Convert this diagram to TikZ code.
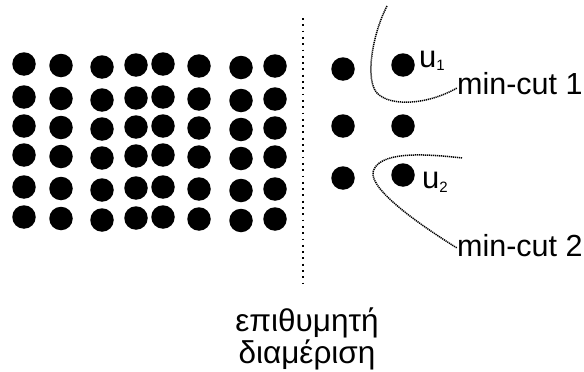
\documentclass[tikz,border=0pt]{standalone}
\usepackage{fontspec}
\setmainfont{Liberation Sans}
\usetikzlibrary{calc}

\begin{document}
\begin{tikzpicture}[x=1pt, y=-1pt,
    vertex/.style={circle, fill=black, inner sep=0pt, minimum size=23.5pt},
    partline/.style={line width=1.8pt, dash pattern=on 1.8pt off 4.5pt},
    cutline/.style={line width=1.5pt, dash pattern=on 1.2pt off 0.8pt},
    vlabel/.style={inner sep=0pt, anchor=base west, font=\fontsize{31}{31}\selectfont},
    cutlabel/.style={inner sep=0pt, anchor=base west, font=\fontsize{30.5}{30}\selectfont}
]
    \useasboundingbox (0,0) rectangle (584,372);
    % left part of the graph
    \foreach \x/\dy [count=\i] in {24/0, 61/1.5, 102/3, 136/1, 163/0, 199/2, 241/3.5, 275/2} {
        \foreach \y [count=\j] in {64, 97, 126, 155, 187, 217}
            \node[vertex] (g\i-\j) at (\x, \y+\dy) {};
    }
    % right part of the graph
    \node[vertex] (a1) at (343, 69) {};
    \node[vertex] (u1) at (403, 65) {};
    \node[vertex] (a2) at (343, 126) {};
    \node[vertex] (b2) at (403, 126) {};
    \node[vertex] (a3) at (343, 178) {};
    \node[vertex] (u2) at (403, 175) {};
    \node[vlabel] (u1lab) at (419, 67) {u\raisebox{-3pt}{\fontsize{15}{15}\selectfont 1}};
    \node[vlabel] (u2lab) at (422, 188) {u\raisebox{-4pt}{\fontsize{15}{15}\selectfont 2}};
    % desired partition
    \coordinate (ptop) at (303, 18);
    \coordinate (pbot) at (303, 285);
    \draw[partline] (ptop) -- (pbot);
    \node[anchor=north, align=center, inner sep=0pt, font=\fontsize{31.5}{29}\selectfont] (part) at (307, 308) {επιθυμητή\\διαμέριση};
    % min cuts
    \node[cutlabel] (cut1) at (457, 94) {min-cut 1};
    \node[cutlabel] (cut2) at (457, 256) {min-cut 2};
    \coordinate (c1start) at (387, 6);
    \coordinate (c2start) at (462, 158);
    \draw[cutline] (c1start) .. controls (372, 35) and (365, 80) .. (377, 93)
        .. controls (389, 106) and (425, 106) .. ($(cut1.base west)+(0, -6)$);
    \draw[cutline] (c2start) .. controls (420, 153) and (378, 152) .. (373, 172)
        .. controls (370, 190) and (420, 225) .. ($(cut2.base west)+(0, -8)$);
\end{tikzpicture}
\end{document}
